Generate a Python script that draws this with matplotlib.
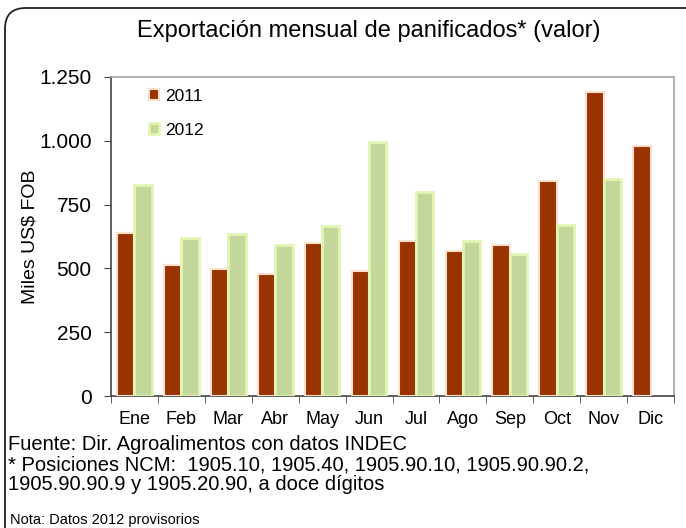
import numpy as np
import matplotlib.pyplot as plt
from matplotlib.patches import FancyBboxPatch
from matplotlib.ticker import FuncFormatter, FixedLocator

plt.rcParams['font.family'] = ['Liberation Sans', 'DejaVu Sans']

meses = ['Ene', 'Feb', 'Mar', 'Abr', 'May', 'Jun', 'Jul', 'Ago', 'Sep', 'Oct', 'Nov', 'Dic']
v2011 = [639, 513, 498, 478, 600, 490, 607, 568, 592, 842, 1191, 980]
v2012 = [827, 619, 635, 592, 666, 995, 800, 607, 556, 670, 850, np.nan]

W, H = 686, 528
fig = plt.figure(figsize=(W/100, H/100), dpi=100)
ax = fig.add_axes([111/W, 1 - 396/H, (674 - 111)/W, (396 - 77)/H])

# marco redondeado (se sale por la derecha y por abajo)
frame = FancyBboxPatch((5/W, -40/H), 720/W, (H - 8 + 40)/H,
                       boxstyle='round,pad=0,rounding_size=0.03',
                       transform=fig.transFigure, fill=False,
                       edgecolor='#222222', linewidth=1.3, clip_on=False,
                       mutation_aspect=W/H)
fig.patches.append(frame)

x = np.arange(len(meses))
w = 0.37
ax.bar(x - w/2, v2011, w, color='#993300', edgecolor='#fbe0cf', linewidth=1.5, label='2011', zorder=3)
ax.bar(x + w/2, v2012, w, color='#c4d79b', edgecolor='#e2f5b4', linewidth=2, label='2012', zorder=3)

ax.set_xlim(-0.5, 11.5)
ax.set_ylim(0, 1250)
ax.set_yticks([0, 250, 500, 750, 1000, 1250])
ax.yaxis.set_major_formatter(FuncFormatter(lambda v, p: f'{int(v):,}'.replace(',', '.')))
ax.set_xticks(x)
ax.set_xticklabels(meses, fontsize=13)
ax.xaxis.set_minor_locator(FixedLocator(np.arange(-0.5, 12, 1)))
ax.tick_params(axis='x', which='major', length=0, pad=11)
ax.tick_params(axis='x', which='minor', length=5, direction='out', color='#444444')
ax.tick_params(axis='y', length=5, direction='out', labelsize=15, color='#444444', pad=9)

for s in ['top', 'right']:
    ax.spines[s].set_color('#a6a6a6')
for s in ['left', 'bottom']:
    ax.spines[s].set_color('#444444')
for s in ax.spines.values():
    s.set_linewidth(1.2)

ax.set_ylabel('Miles US$ FOB', fontsize=14, labelpad=0)

ax.legend(loc='upper left', bbox_to_anchor=(0.055, 0.985), frameon=False, fontsize=12.5,
          handlelength=0.6, handleheight=0.6, handletextpad=0.35, labelspacing=1.1,
          borderaxespad=0)

fig.text(369/W, 1 - 31/H, 'Exportación mensual de panificados* (valor)',
         ha='center', va='center', fontsize=17)

notas = ['Fuente: Dir. Agroalimentos con datos INDEC',
         '* Posiciones NCM:  1905.10, 1905.40, 1905.90.10, 1905.90.90.2,',
         '1905.90.90.9 y 1905.20.90, a doce dígitos']
for i, t in enumerate(notas):
    fig.text(8/W, 1 - (445 + 20*i)/H, t, ha='left', va='center', fontsize=14.5)
fig.text(10/W, 1 - 520/H, 'Nota: Datos 2012 provisorios', ha='left', va='center', fontsize=10.5)

fig.savefig('out.png', dpi=100)
